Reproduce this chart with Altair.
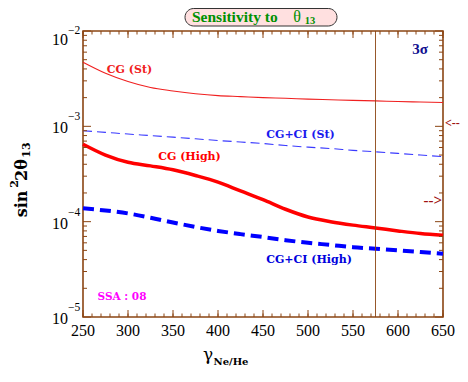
import altair as alt
import pandas as pd

# ---- data ----
gamma = [250, 275, 300, 325, 350, 375, 400, 425, 450, 475, 500, 525, 550, 575, 600, 625, 650]
cg_st = [4.7e-3, 3.6e-3, 2.95e-3, 2.55e-3, 2.35e-3, 2.2e-3, 2.1e-3, 2.05e-3, 2.0e-3,
         1.97e-3, 1.93e-3, 1.9e-3, 1.87e-3, 1.85e-3, 1.82e-3, 1.8e-3, 1.78e-3]
cgci_st = [9.0e-4, 8.65e-4, 8.3e-4, 8.0e-4, 7.7e-4, 7.4e-4, 7.1e-4, 6.85e-4, 6.6e-4,
           6.3e-4, 6.05e-4, 5.85e-4, 5.6e-4, 5.4e-4, 5.2e-4, 5.0e-4, 4.8e-4]
cg_high = [6.5e-4, 5.0e-4, 4.2e-4, 3.85e-4, 3.5e-4, 3.05e-4, 2.6e-4, 2.1e-4, 1.7e-4,
           1.35e-4, 1.12e-4, 1.0e-4, 9.2e-5, 8.6e-5, 8.0e-5, 7.5e-5, 7.2e-5]
cgci_high = [1.38e-4, 1.31e-4, 1.22e-4, 1.1e-4, 9.8e-5, 8.8e-5, 8.0e-5, 7.4e-5, 6.9e-5,
             6.4e-5, 6.0e-5, 5.7e-5, 5.4e-5, 5.2e-5, 5.0e-5, 4.8e-5, 4.6e-5]

x_major = [250, 300, 350, 400, 450, 500, 550, 600, 650]
x_minor = list(range(250, 651, 10))
y_major = [1e-5, 1e-4, 1e-3, 1e-2]
y_exp = ["\u22125", "\u22124", "\u22123", "\u22122"]
y_minor = [m * 10.0 ** k for k in (-5, -4, -3) for m in range(2, 10)]
vline_x = [575]
arrow_left_y = [1.08e-3]
arrow_right_y = [1.7e-4]

W, H = 360, 286
BROWN = "#8B4513"
SERIF = "Liberation Serif"
BOLDF = "DejaVu Serif"

xs = alt.Scale(domain=[250, 650], nice=False, zero=False)
ys = alt.Scale(type="log", domain=[1e-5, 1e-2], nice=False)


def line(vals, color, width, dash=None):
    df = pd.DataFrame({"g": gamma, "s": vals})
    kw = dict(color=color, strokeWidth=width, interpolate="monotone")
    if dash:
        kw["strokeDash"] = dash
    return alt.Chart(df).mark_line(**kw).encode(
        x=alt.X("g:Q", scale=xs, axis=None),
        y=alt.Y("s:Q", scale=ys, axis=None),
    )


def yticks(vals, x0, x1):
    return alt.Chart(pd.DataFrame({"v": vals})).mark_rule(color=BROWN, strokeWidth=1).encode(
        y=alt.Y("v:Q", scale=ys, axis=None), x=alt.value(x0), x2=alt.value(x1))


def xticks(vals, y0, y1):
    return alt.Chart(pd.DataFrame({"v": vals})).mark_rule(color=BROWN, strokeWidth=1).encode(
        x=alt.X("v:Q", scale=xs, axis=None), y=alt.value(y0), y2=alt.value(y1))


def label(txt, px, py, color, size=11, font=BOLDF, weight="bold", angle=0, align="center"):
    kw = dict(text=txt, color=color, fontSize=size, font=font, fontWeight=weight,
              align=align, baseline="middle")
    if angle:
        kw["angle"] = angle
    return alt.Chart(pd.DataFrame({"a": [0]})).mark_text(**kw).encode(
        x=alt.value(px), y=alt.value(py))


one = pd.DataFrame({"a": [0]})
ylab = pd.DataFrame({"v": y_major, "e": y_exp})

layers = [
    line(cg_st, "#f02020", 1.1),
    line(cgci_st, "#3a3aff", 1.1, dash=[9, 5]),
    line(cg_high, "#ff0000", 3.5),
    line(cgci_high, "#0000ff", 4, dash=[11, 6]),
    # vertical reference line
    alt.Chart(pd.DataFrame({"v": vline_x})).mark_rule(color=BROWN, strokeWidth=0.9).encode(
        x=alt.X("v:Q", scale=xs, axis=None), y=alt.value(0), y2=alt.value(H)),
    # ticks
    yticks(y_major, 0, 8), yticks(y_minor, 0, 4),
    yticks(y_major, W, W - 8), yticks(y_minor, W, W - 4),
    xticks(x_major, H, H - 7), xticks(x_minor, H, H - 3.5),
    xticks(x_major, 0, 7), xticks(x_minor, 0, 3.5),
    # x tick labels
    alt.Chart(pd.DataFrame({"v": x_major})).mark_text(
        align="center", baseline="middle", font=SERIF, fontSize=16, color="black").encode(
        x=alt.X("v:Q", scale=xs, axis=None), y=alt.value(H + 14), text="v:Q"),
    # y tick labels
    alt.Chart(ylab).transform_filter(alt.datum.v < 0.005).mark_text(
        align="right", baseline="middle", dy=2, font=SERIF, fontSize=16, color="black").encode(
        y=alt.Y("v:Q", scale=ys, axis=None), x=alt.value(-15), text=alt.value("10")),
    alt.Chart(ylab).transform_filter(alt.datum.v < 0.005).mark_text(
        align="left", baseline="middle", dy=-9, font=SERIF, fontSize=11.5, color="black").encode(
        y=alt.Y("v:Q", scale=ys, axis=None), x=alt.value(-15), text="e:N"),
    alt.Chart(ylab).transform_filter(alt.datum.v > 0.005).mark_text(
        align="right", baseline="middle", dy=9, font=SERIF, fontSize=16, color="black").encode(
        y=alt.Y("v:Q", scale=ys, axis=None), x=alt.value(-15), text=alt.value("10")),
    alt.Chart(ylab).transform_filter(alt.datum.v > 0.005).mark_text(
        align="left", baseline="middle", dy=0, font=SERIF, fontSize=11.5, color="black").encode(
        y=alt.Y("v:Q", scale=ys, axis=None), x=alt.value(-15), text="e:N"),
    # arrows at right margin
    alt.Chart(pd.DataFrame({"v": arrow_left_y})).mark_text(
        text="<--", align="left", baseline="middle", font=SERIF, fontWeight="bold",
        fontSize=12, color="#a01010").encode(
        y=alt.Y("v:Q", scale=ys, axis=None), x=alt.value(W + 2)),
    alt.Chart(pd.DataFrame({"v": arrow_right_y})).mark_text(
        text="-->", align="right", baseline="middle", font=SERIF, fontWeight="bold",
        fontSize=15, color="#a01010").encode(
        y=alt.Y("v:Q", scale=ys, axis=None), x=alt.value(W - 1)),
    # title box
    alt.Chart(one).mark_rect(fill="#ffe0e0", stroke="#333333", strokeWidth=1, cornerRadius=10).encode(
        x=alt.value(102), x2=alt.value(254), y=alt.value(-22.5), y2=alt.value(-5)),
    label("Sensitivity to", 109, -14, "#009000", size=15.5, font=SERIF, align="left"),
    label("\u03b8", 214, -14, "#009000", size=16, font=SERIF, weight="normal"),
    label("13", 227, -10.5, "#009000", size=10.5, font=SERIF),
    # curve labels
    label("CG (St)", 46.5, 39, "#f02020"),
    label("CG+CI (St)", 217.5, 104, "#1a1aee"),
    label("CG (High)", 106.5, 126, "#ff0000"),
    label("CG+CI (High)", 226, 229, "#0000dd"),
    label("SSA : 08", 39, 266, "#ff00ff", size=10.5),
    label("3\u03c3", 337, 18, "#101090", size=15, font=SERIF),
    # y title
    label("sin", -61, 173, "black", size=16, angle=270),
    label("2", -68, 153, "black", size=11, angle=270),
    label("2\u03b8", -61, 139, "black", size=16, angle=270),
    label("13", -56, 119, "black", size=11, angle=270),
    # x title
    label("\u03b3", 125, 324, "black", size=17, font=BOLDF, weight="normal"),
    label("Ne/He", 148, 331, "black", size=10),
]

chart = alt.layer(*layers).properties(
    width=W, height=H,
    autosize=alt.AutoSizeParams(type="none"),
    padding={"left": 75, "top": 23, "right": 17, "bottom": 52},
).configure_view(stroke=BROWN, strokeWidth=1.6)

chart.save("out.html", embed_options={"renderer": "svg", "actions": False})
